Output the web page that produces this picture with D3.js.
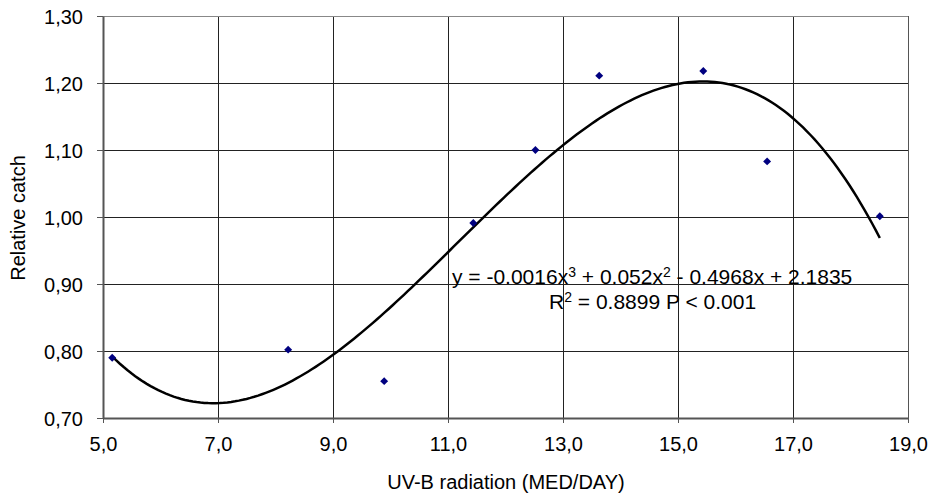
<!DOCTYPE html>
<html><head><meta charset="utf-8">
<script src="https://cdn.jsdelivr.net/npm/d3@7"></script>
<style>body{margin:0;background:#fff;} text{font-family:"Liberation Sans",Arial,sans-serif;}</style>
</head><body>
<svg id="c" width="933" height="501"></svg>
<script>
const uvb = [5.16, 8.22, 9.89, 11.44, 12.52, 13.63, 15.44, 16.55, 18.51];
const catchVals = [0.790, 0.802, 0.755, 0.991, 1.100, 1.211, 1.218, 1.083, 1.001];
const xTicks = [5, 7, 9, 11, 13, 15, 17, 19];
const yTicks = [0.70, 0.80, 0.90, 1.00, 1.10, 1.20, 1.30];
const eqText = ["y = -0.0016x", "3", " + 0.052x", "2", " - 0.4968x + 2.1835"];
const r2Text = ["R", "2", " = 0.8899 P < 0.001"];

const svg = d3.select("#c");
const L = 103, R = 908, T = 16, B = 418;
const x = d3.scaleLinear().domain([5, 19]).range([L, R]);
const y = d3.scaleLinear().domain([0.70, 1.30]).range([B, T]);
const fmt = d => d.toFixed(d >= 5 ? 1 : 2).replace(".", ",");

// gridlines
svg.append("g").selectAll("line").data(yTicks.slice(1, -1)).join("line")
  .attr("x1", L).attr("x2", R).attr("y1", d => y(d)).attr("y2", d => y(d))
  .attr("stroke", "#222").attr("stroke-width", 1).attr("shape-rendering", "crispEdges");
svg.append("g").selectAll("line").data(xTicks.slice(1, -1)).join("line")
  .attr("y1", T).attr("y2", B).attr("x1", d => x(d)).attr("x2", d => x(d))
  .attr("stroke", "#222").attr("stroke-width", 1).attr("shape-rendering", "crispEdges");
// frame top/right
svg.append("line").attr("x1", L).attr("x2", R).attr("y1", T).attr("y2", T).attr("stroke", "#888").attr("shape-rendering", "crispEdges");
svg.append("line").attr("x1", R).attr("x2", R).attr("y1", T).attr("y2", B).attr("stroke", "#555").attr("shape-rendering", "crispEdges");

// axes
const xAxis = d3.axisBottom(x).tickValues(xTicks).tickFormat(fmt).tickSize(5).tickSizeOuter(0);
const yAxis = d3.axisLeft(y).tickValues(yTicks).tickFormat(fmt).tickSize(6).tickSizeOuter(0);
const gx = svg.append("g").attr("transform", `translate(0,${B})`).call(xAxis);
const gy = svg.append("g").attr("transform", `translate(${L},0)`).call(yAxis);
[gx, gy].forEach(g => {
  g.select(".domain").attr("stroke", "#555").attr("stroke-width", 2);
  g.selectAll(".tick line").attr("stroke", "#555").attr("stroke-width", 1);
  g.selectAll("text").attr("font-size", 20).attr("fill", "#000").attr("font-family", "Liberation Sans, Arial, sans-serif");
});
gx.selectAll("text").attr("y", 0).attr("dy", 0).attr("transform", "translate(0,33)");
gy.selectAll("text").attr("x", -20).attr("dy", "0.36em");

// cubic least-squares trendline from the data
function polyfit(xs, ys, deg) {
  const n = deg + 1;
  const A = Array.from({length: n}, () => new Array(n + 1).fill(0));
  for (let i = 0; i < xs.length; i++) {
    for (let r = 0; r < n; r++) {
      for (let c = 0; c < n; c++) A[r][c] += Math.pow(xs[i], r + c);
      A[r][n] += ys[i] * Math.pow(xs[i], r);
    }
  }
  for (let i = 0; i < n; i++) {
    let p = i; for (let k = i + 1; k < n; k++) if (Math.abs(A[k][i]) > Math.abs(A[p][i])) p = k;
    [A[i], A[p]] = [A[p], A[i]];
    for (let k = i + 1; k < n; k++) { const f = A[k][i] / A[i][i]; for (let j = i; j <= n; j++) A[k][j] -= f * A[i][j]; }
  }
  const co = new Array(n).fill(0);
  for (let i = n - 1; i >= 0; i--) { let s = A[i][n]; for (let j = i + 1; j < n; j++) s -= A[i][j] * co[j]; co[i] = s / A[i][i]; }
  return co;
}
const co = polyfit(uvb, catchVals, 3);
const f = v => co[0] + co[1] * v + co[2] * v * v + co[3] * v * v * v;
const xs = d3.range(0, 201).map(i => uvb[0] + (uvb[uvb.length - 1] - uvb[0]) * i / 200);
svg.append("path").datum(xs)
  .attr("d", d3.line().x(d => x(d)).y(d => y(f(d))).curve(d3.curveLinear))
  .attr("fill", "none").attr("stroke", "#000").attr("stroke-width", 2.5);

// points
svg.append("g").selectAll("path").data(uvb).join("path")
  .attr("d", d3.symbol(d3.symbolDiamond2, 40))
  .attr("transform", (d, i) => `translate(${x(d)},${y(catchVals[i])})`)
  .attr("fill", "#000080");

// equation labels
function rich(parts, tx, ty) {
  const t = svg.append("text").attr("x", tx).attr("y", ty).attr("font-size", 21).attr("fill", "#000");
  parts.forEach((p, i) => {
    const s = t.append("tspan").text(p);
    if (i % 2 === 1) s.attr("font-size", 14).attr("dy", -7);
    else if (i > 0) s.attr("dy", 7);
  });
  return t;
}
rich(eqText, 452, 284);
rich(r2Text, 549, 309);

// axis titles
svg.append("text").attr("x", 506).attr("y", 489).attr("text-anchor", "middle").attr("font-size", 20).text("UV-B radiation (MED/DAY)");
svg.append("text").attr("transform", "translate(25,218) rotate(-90)").attr("text-anchor", "middle").attr("font-size", 20).text("Relative catch");
</script>
</body></html>
